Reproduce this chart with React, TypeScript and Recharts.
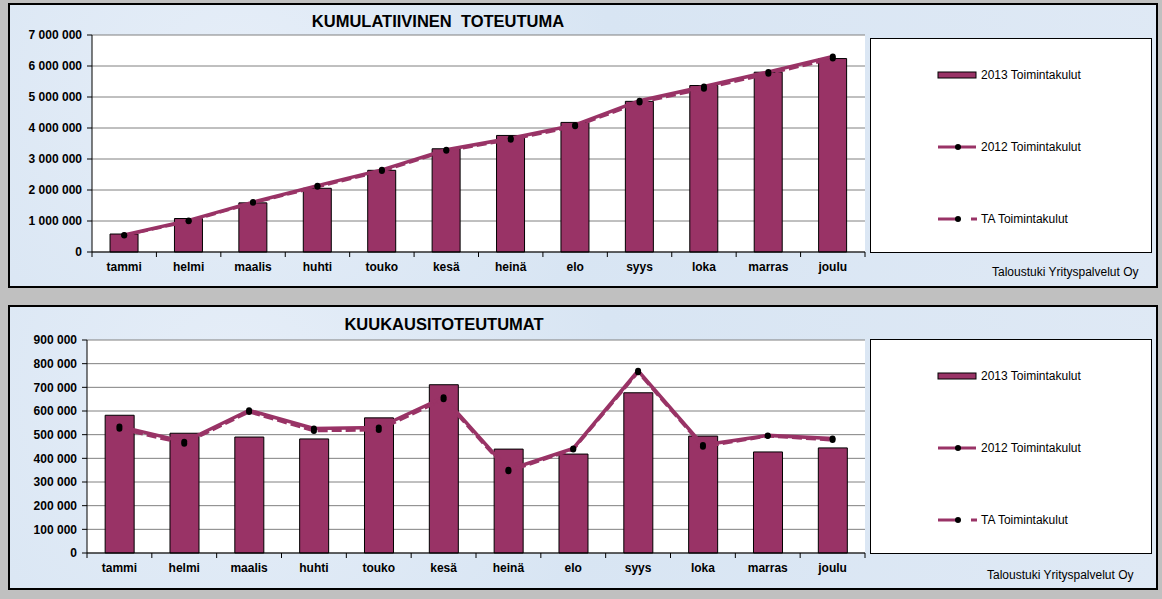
import { ComposedChart, Bar, Line, XAxis, YAxis, CartesianGrid } from 'recharts'

const MONTHS = ['tammi', 'helmi', 'maalis', 'huhti', 'touko', 'kesä', 'heinä', 'elo', 'syys', 'loka', 'marras', 'joulu']

// kumulatiivinen
const CUM_2013 = [580000, 1080000, 1585000, 2055000, 2635000, 3330000, 3760000, 4180000, 4860000, 5370000, 5800000, 6240000]
const CUM_2012 = [550000, 1020000, 1610000, 2140000, 2650000, 3300000, 3670000, 4100000, 4880000, 5340000, 5810000, 6310000]
const CUM_TA = [535000, 995000, 1585000, 2105000, 2610000, 3265000, 3625000, 4055000, 4820000, 5270000, 5750000, 6240000]
const CUM_TICKS = [0, 1000000, 2000000, 3000000, 4000000, 5000000, 6000000, 7000000]

// kuukausittain
const MON_2013 = [582000, 506000, 490000, 482000, 571000, 711000, 439000, 418000, 677000, 494000, 427000, 444000]
const MON_2012 = [535000, 470000, 603000, 526000, 530000, 658000, 352000, 442000, 770000, 456000, 497000, 484000]
const MON_TA = [525000, 462000, 596000, 516000, 520000, 650000, 345000, 437000, 764000, 449000, 494000, 477000]
const MON_TICKS = [0, 100000, 200000, 300000, 400000, 500000, 600000, 700000, 800000, 900000]

const SERIES = ['2013 Toimintakulut', '2012 Toimintakulut', 'TA Toimintakulut']
const FOOTER = 'Taloustuki Yrityspalvelut Oy'

const COLOR = '#993366'
const FONT = '"Liberation Sans", Arial, sans-serif'

const fmt = (v: number) => String(v).replace(/\B(?=(\d{3})+(?!\d))/g, ' ')

function XTick(props: any) {
  const { x, y, payload, index, step, count } = props
  return (
    <g>
      <line x1={x - step / 2} x2={x - step / 2} y1={y} y2={y + 5} stroke="#000" />
      {index === count - 1 && <line x1={x + step / 2} x2={x + step / 2} y1={y} y2={y + 5} stroke="#000" />}
      <text x={x} y={y + 19} textAnchor="middle" fontSize={12} fontWeight="bold" fontFamily={FONT} fill="#000">
        {payload.value}
      </text>
    </g>
  )
}

function Chart({ data, ticks, yWidth, top }: { data: any[]; ticks: number[]; yWidth: number; top: number }) {
  const width = 870
  const right = 5
  const step = (width - right - yWidth) / data.length
  return (
    <ComposedChart
      width={width}
      height={290}
      data={data}
      margin={{ top, right, bottom: 290 - top - (top === 35 ? 217 : 213) - 30, left: 0 }}
      barCategoryGap="28%"
    >
      <CartesianGrid vertical={false} stroke="#808080" fill="#fff" />
      <XAxis xAxisId="top" orientation="top" dataKey="m" height={0} tick={false} tickLine={false} axisLine={{ stroke: '#000' }} />
      <XAxis
        dataKey="m"
        height={30}
        tickSize={0}
        tickMargin={0}
        tickLine={false}
        axisLine={{ stroke: '#000' }}
        interval={0}
        tick={<XTick step={step} count={data.length} />}
      />
      <YAxis
        width={yWidth}
        domain={[ticks[0], ticks[ticks.length - 1]]}
        ticks={ticks}
        interval={0}
        tickFormatter={fmt}
        tickSize={5}
        tickMargin={5}
        tickLine={{ stroke: '#000' }}
        axisLine={{ stroke: '#000' }}
        tick={{ fontSize: 12, fontWeight: 'bold', fill: '#000', fontFamily: FONT }}
      />
      <YAxis yAxisId="r" orientation="right" width={0} tick={false} tickLine={false} axisLine={{ stroke: '#000' }} />
      <Bar dataKey="a" fill={COLOR} stroke="#000" strokeWidth={1} isAnimationActive={false} />
      <Line
        dataKey="b"
        stroke={COLOR}
        strokeWidth={3.5}
        dot={{ r: 3, fill: '#000', strokeWidth: 0 }}
        isAnimationActive={false}
      />
      <Line
        dataKey="c"
        stroke={COLOR}
        strokeWidth={3}
        strokeDasharray="10 4"
        dot={{ r: 3, fill: '#000', strokeWidth: 0 }}
        isAnimationActive={false}
      />
    </ComposedChart>
  )
}

function LegendBox({ top }: { top: number }) {
  return (
    <div
      style={{
        position: 'absolute',
        left: 870,
        top,
        width: 282,
        height: 215,
        boxSizing: 'border-box',
        border: '1.5px solid #000',
        background: '#fff',
      }}
    >
      {SERIES.map((name, i) => (
        <div key={name} style={{ position: 'absolute', left: 66, top: 28 + i * 72, height: 16, display: 'flex', alignItems: 'center' }}>
          <svg width={42} height={16}>
            {i === 0 && <rect x={1} y={5} width={38} height={6} fill={COLOR} stroke="#000" strokeWidth={1} />}
            {i === 1 && <line x1={1} x2={39} y1={8} y2={8} stroke={COLOR} strokeWidth={3} />}
            {i === 2 && (
              <>
                <line x1={1} x2={21} y1={8} y2={8} stroke={COLOR} strokeWidth={3} />
                <line x1={34} x2={40} y1={8} y2={8} stroke={COLOR} strokeWidth={3} />
              </>
            )}
            {i > 0 && <circle cx={21} cy={8} r={3} fill="#000" />}
          </svg>
          <span style={{ marginLeft: 2, fontSize: 12, fontFamily: FONT, color: '#000', whiteSpace: 'nowrap' }}>{name}</span>
        </div>
      ))}
    </div>
  )
}

const panelStyle = (top: number): React.CSSProperties => ({
  position: 'absolute',
  left: 8,
  top,
  width: 1150,
  height: 285,
  boxSizing: 'border-box',
  border: '2px solid #000',
  background: 'radial-gradient(circle at 20% 30%, #e6eef8 0, #d8e5f3 40%, #dfe9f5 100%)',
})

const titleStyle = (top: number, cx: number): React.CSSProperties => ({
  position: 'absolute',
  left: cx - 200,
  width: 400,
  top,
  textAlign: 'center',
  fontSize: 16.5,
  fontWeight: 'bold',
  fontFamily: FONT,
  color: '#000',
  whiteSpace: 'pre',
})

const footerStyle = (top: number, left: number): React.CSSProperties => ({
  position: 'absolute',
  left,
  top,
  fontSize: 12,
  fontFamily: FONT,
  color: '#000',
  whiteSpace: 'nowrap',
})

export default function App() {
  const cum = MONTHS.map((m, i) => ({ m, a: CUM_2013[i], b: CUM_2012[i], c: CUM_TA[i] }))
  const mon = MONTHS.map((m, i) => ({ m, a: MON_2013[i], b: MON_2012[i], c: MON_TA[i] }))
  return (
    <div style={{ position: 'absolute', left: 0, top: 0, width: 1162, height: 599, background: '#c0c0c0', overflow: 'hidden' }}>
      <div style={panelStyle(3)} />
      <div style={panelStyle(305)} />

      <div style={titleStyle(12, 438)}>{'KUMULATIIVINEN  TOTEUTUMA'}</div>
      <div style={{ position: 'absolute', left: 0, top: 0 }}>
        <Chart data={cum} ticks={CUM_TICKS} yWidth={92} top={35} />
      </div>
      <LegendBox top={38} />
      <div style={footerStyle(265, 992)}>{FOOTER}</div>

      <div style={titleStyle(315, 444)}>KUUKAUSITOTEUTUMAT</div>
      <div style={{ position: 'absolute', left: 0, top: 300 }}>
        <Chart data={mon} ticks={MON_TICKS} yWidth={87} top={40} />
      </div>
      <LegendBox top={339} />
      <div style={footerStyle(568, 987)}>{FOOTER}</div>
    </div>
  )
}
